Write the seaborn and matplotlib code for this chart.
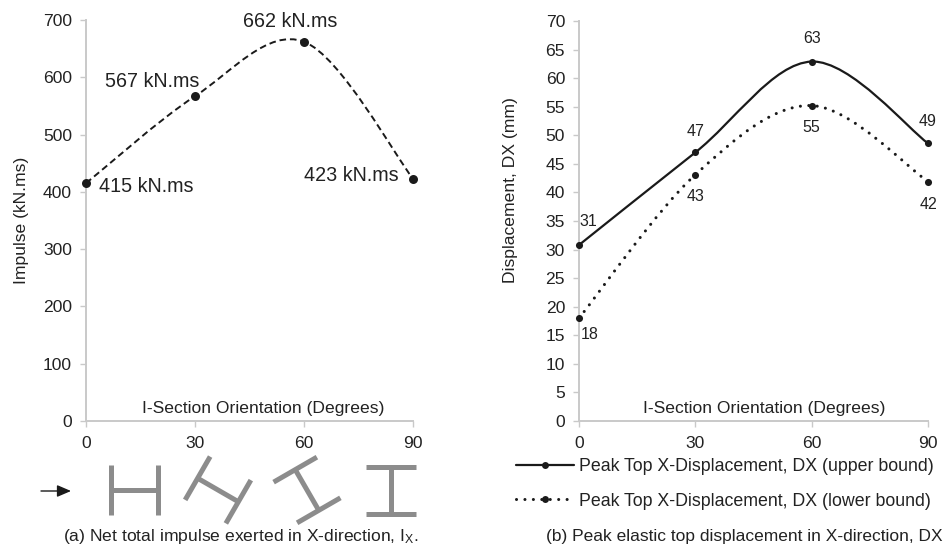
import numpy as np
import matplotlib
matplotlib.use('Agg')
import matplotlib.pyplot as plt
import seaborn as sns
from matplotlib.lines import Line2D
from matplotlib.patches import PathPatch
from matplotlib.path import Path

WIDTH, HEIGHT = 946, 547

angles = [0, 30, 60, 90]
impulse = [415, 567, 662, 423]
impulse_labels = ["415 kN.ms", "567 kN.ms", "662 kN.ms", "423 kN.ms"]
upper_dx = [30.8, 47.0, 62.9, 48.6]
lower_dx = [18.0, 43.1, 55.2, 41.9]
upper_labels = ["31", "47", "63", "49"]
lower_labels = ["18", "43", "55", "42"]
impulse_ticks = [0, 100, 200, 300, 400, 500, 600, 700]
dx_ticks = list(range(0, 75, 5))

# label offsets in pixels from the marker
impulse_offsets = [(60, -3), (-43, 15), (-14, 20), (-62, 3)]
upper_offsets = [(9, 24), (0, 21), (0, 23), (0, 22)]
lower_offsets = [(11, -16), (0, -22), (0, -22), (0, -23)]

sns.set_theme(style="ticks")
plt.rcParams['font.family'] = ['Liberation Sans', 'DejaVu Sans']
plt.rcParams['mathtext.default'] = 'regular'
TEXT = "#222222"
GREY = "#c9c9c9"
LINE = "#1a1a1a"
DOTTED = (0, (0.01, 2.75))


def px_axes(fig, left, right, top, bottom):
    return fig.add_axes([left / WIDTH, 1 - bottom / HEIGHT,
                         (right - left) / WIDTH, (bottom - top) / HEIGHT])


def smooth_line(ax, xs, ys, **kw):
    """Excel style smoothed line, bezier handles worked out from the values."""
    pts = np.column_stack([xs, ys]).astype(float)
    verts = [pts[0]]
    for i in range(len(pts) - 1):
        prev_pt = pts[max(i - 1, 0)]
        next_pt = pts[min(i + 2, len(pts) - 1)]
        verts.append(pts[i] + (pts[i + 1] - prev_pt) / 6)
        verts.append(pts[i + 1] - (next_pt - pts[i]) / 6)
        verts.append(pts[i + 1])
    codes = [Path.MOVETO] + [Path.CURVE4] * (len(verts) - 1)
    ax.add_patch(PathPatch(Path(verts, codes), fill=False, **kw))


def style_axes(ax, ymax, yticks, label_x):
    ax.set_xlim(0, 90)
    ax.set_ylim(0, ymax)
    ax.set_xticks(angles)
    ax.set_yticks(yticks)
    sns.despine(ax=ax)
    for side in ("left", "bottom"):
        ax.spines[side].set_color(GREY)
        ax.spines[side].set_linewidth(1.4)
    ax.tick_params(length=4, width=1.0, color=GREY, labelsize=12.6,
                   labelcolor=TEXT, pad=6)
    ax.tick_params(axis="x", pad=7)
    ax.set_xlabel("I-Section Orientation (Degrees)", fontsize=12.6, color=TEXT)
    ax.xaxis.set_label_coords(label_x, 0.012, transform=ax.transAxes)
    ax.xaxis.label.set_va("bottom")


def add_labels(ax, values, labels, offsets, size):
    for x, y, txt, off in zip(angles, values, labels, offsets):
        ax.annotate(txt, (x, y), xytext=off, textcoords="offset pixels",
                    ha="center", va="center", fontsize=size, color=TEXT,
                    annotation_clip=False)


def markers(ax, values, size):
    sns.scatterplot(x=angles, y=values, ax=ax, s=size, color=LINE,
                    linewidth=0, zorder=5, clip_on=False, legend=False)


fig = plt.figure(figsize=(WIDTH / 100, HEIGHT / 100), dpi=100)

# (a) impulse
ax_a = px_axes(fig, 86, 413, 20, 421)
style_axes(ax_a, 700, impulse_ticks, 0.541)
smooth_line(ax_a, angles, impulse, edgecolor=LINE, linewidth=1.4,
            linestyle=(0, (3.4, 2)))
markers(ax_a, impulse, 42)
add_labels(ax_a, impulse, impulse_labels, impulse_offsets, 14.2)
ax_a.set_ylabel("Impulse (kN.ms)", fontsize=12.6, color=TEXT)
ax_a.yaxis.set_label_coords(29 / WIDTH, 0.5, transform=fig.transFigure)
ax_a.yaxis.label.set_y(1 - 220 / HEIGHT)

# (b) displacement
ax_b = px_axes(fig, 579, 928, 21, 421)
style_axes(ax_b, 70, dx_ticks, 0.53)
smooth_line(ax_b, angles, upper_dx, edgecolor=LINE, linewidth=1.6)
smooth_line(ax_b, angles, lower_dx, edgecolor=LINE, linewidth=2.2,
            linestyle=DOTTED, capstyle="round")
markers(ax_b, upper_dx, 26)
markers(ax_b, lower_dx, 26)
add_labels(ax_b, upper_dx, upper_labels, upper_offsets, 11.5)
add_labels(ax_b, lower_dx, lower_labels, lower_offsets, 11.5)
ax_b.set_ylabel("Displacement, DX (mm)", fontsize=12.6, color=TEXT)
ax_b.yaxis.set_label_coords(518 / WIDTH, 0.5, transform=fig.transFigure)
ax_b.yaxis.label.set_y(1 - 190 / HEIGHT)

# overlay in image pixels for the section sketches and captions
overlay = fig.add_axes([0, 0, 1, 1], zorder=-1)
overlay.set_xlim(0, WIDTH)
overlay.set_ylim(HEIGHT, 0)
overlay.axis("off")


def i_section(ax, cx, cy, theta, spacing=47, flange=50, thick=5, color="#8c8c8c"):
    t = np.radians(theta)
    web = np.array([np.cos(t), np.sin(t)])
    fl = np.array([-np.sin(t), np.cos(t)])
    c = np.array([cx, cy])
    segs = [(c - web * spacing / 2, c + web * spacing / 2),
            (c - web * spacing / 2 - fl * flange / 2, c - web * spacing / 2 + fl * flange / 2),
            (c + web * spacing / 2 - fl * flange / 2, c + web * spacing / 2 + fl * flange / 2)]
    for a, b in segs:
        ax.plot([a[0], b[0]], [a[1], b[1]], color=color, linewidth=thick * 0.72,
                solid_capstyle="butt")


for cx, theta in zip((134, 218, 307, 391), angles):
    i_section(overlay, cx, 490, theta)

overlay.annotate("", xy=(71, 491), xytext=(41, 491),
                 arrowprops=dict(arrowstyle="-|>,head_width=0.3,head_length=0.7",
                                 color=LINE, lw=1.0, shrinkA=0, shrinkB=0))

overlay.text(240.5, 536, "(a) Net total impulse exerted in X-direction, I$_X$.",
             ha="center", va="center", fontsize=12.6, color=TEXT)
overlay.text(744, 536, "(b) Peak elastic top displacement in X-direction, DX",
             ha="center", va="center", fontsize=12.55, color=TEXT)

handles = [
    Line2D([], [], color=LINE, lw=1.6, marker="o", ms=5, mew=0),
    Line2D([], [], color=LINE, lw=2.2, ls=DOTTED, dash_capstyle="round",
           marker="o", ms=5, mew=0),
]
fig.legend(handles, ["Peak Top X-Displacement, DX (upper bound)",
                     "Peak Top X-Displacement, DX (lower bound)"],
           loc="center left", bbox_to_anchor=(516 / WIDTH, 1 - 484 / HEIGHT),
           frameon=False, fontsize=12.75, handlelength=3.25, handletextpad=0.3,
           labelspacing=0.97, numpoints=1, labelcolor=TEXT, borderpad=0, borderaxespad=0)

fig.savefig("out.png", dpi=100)
plt.close(fig)
